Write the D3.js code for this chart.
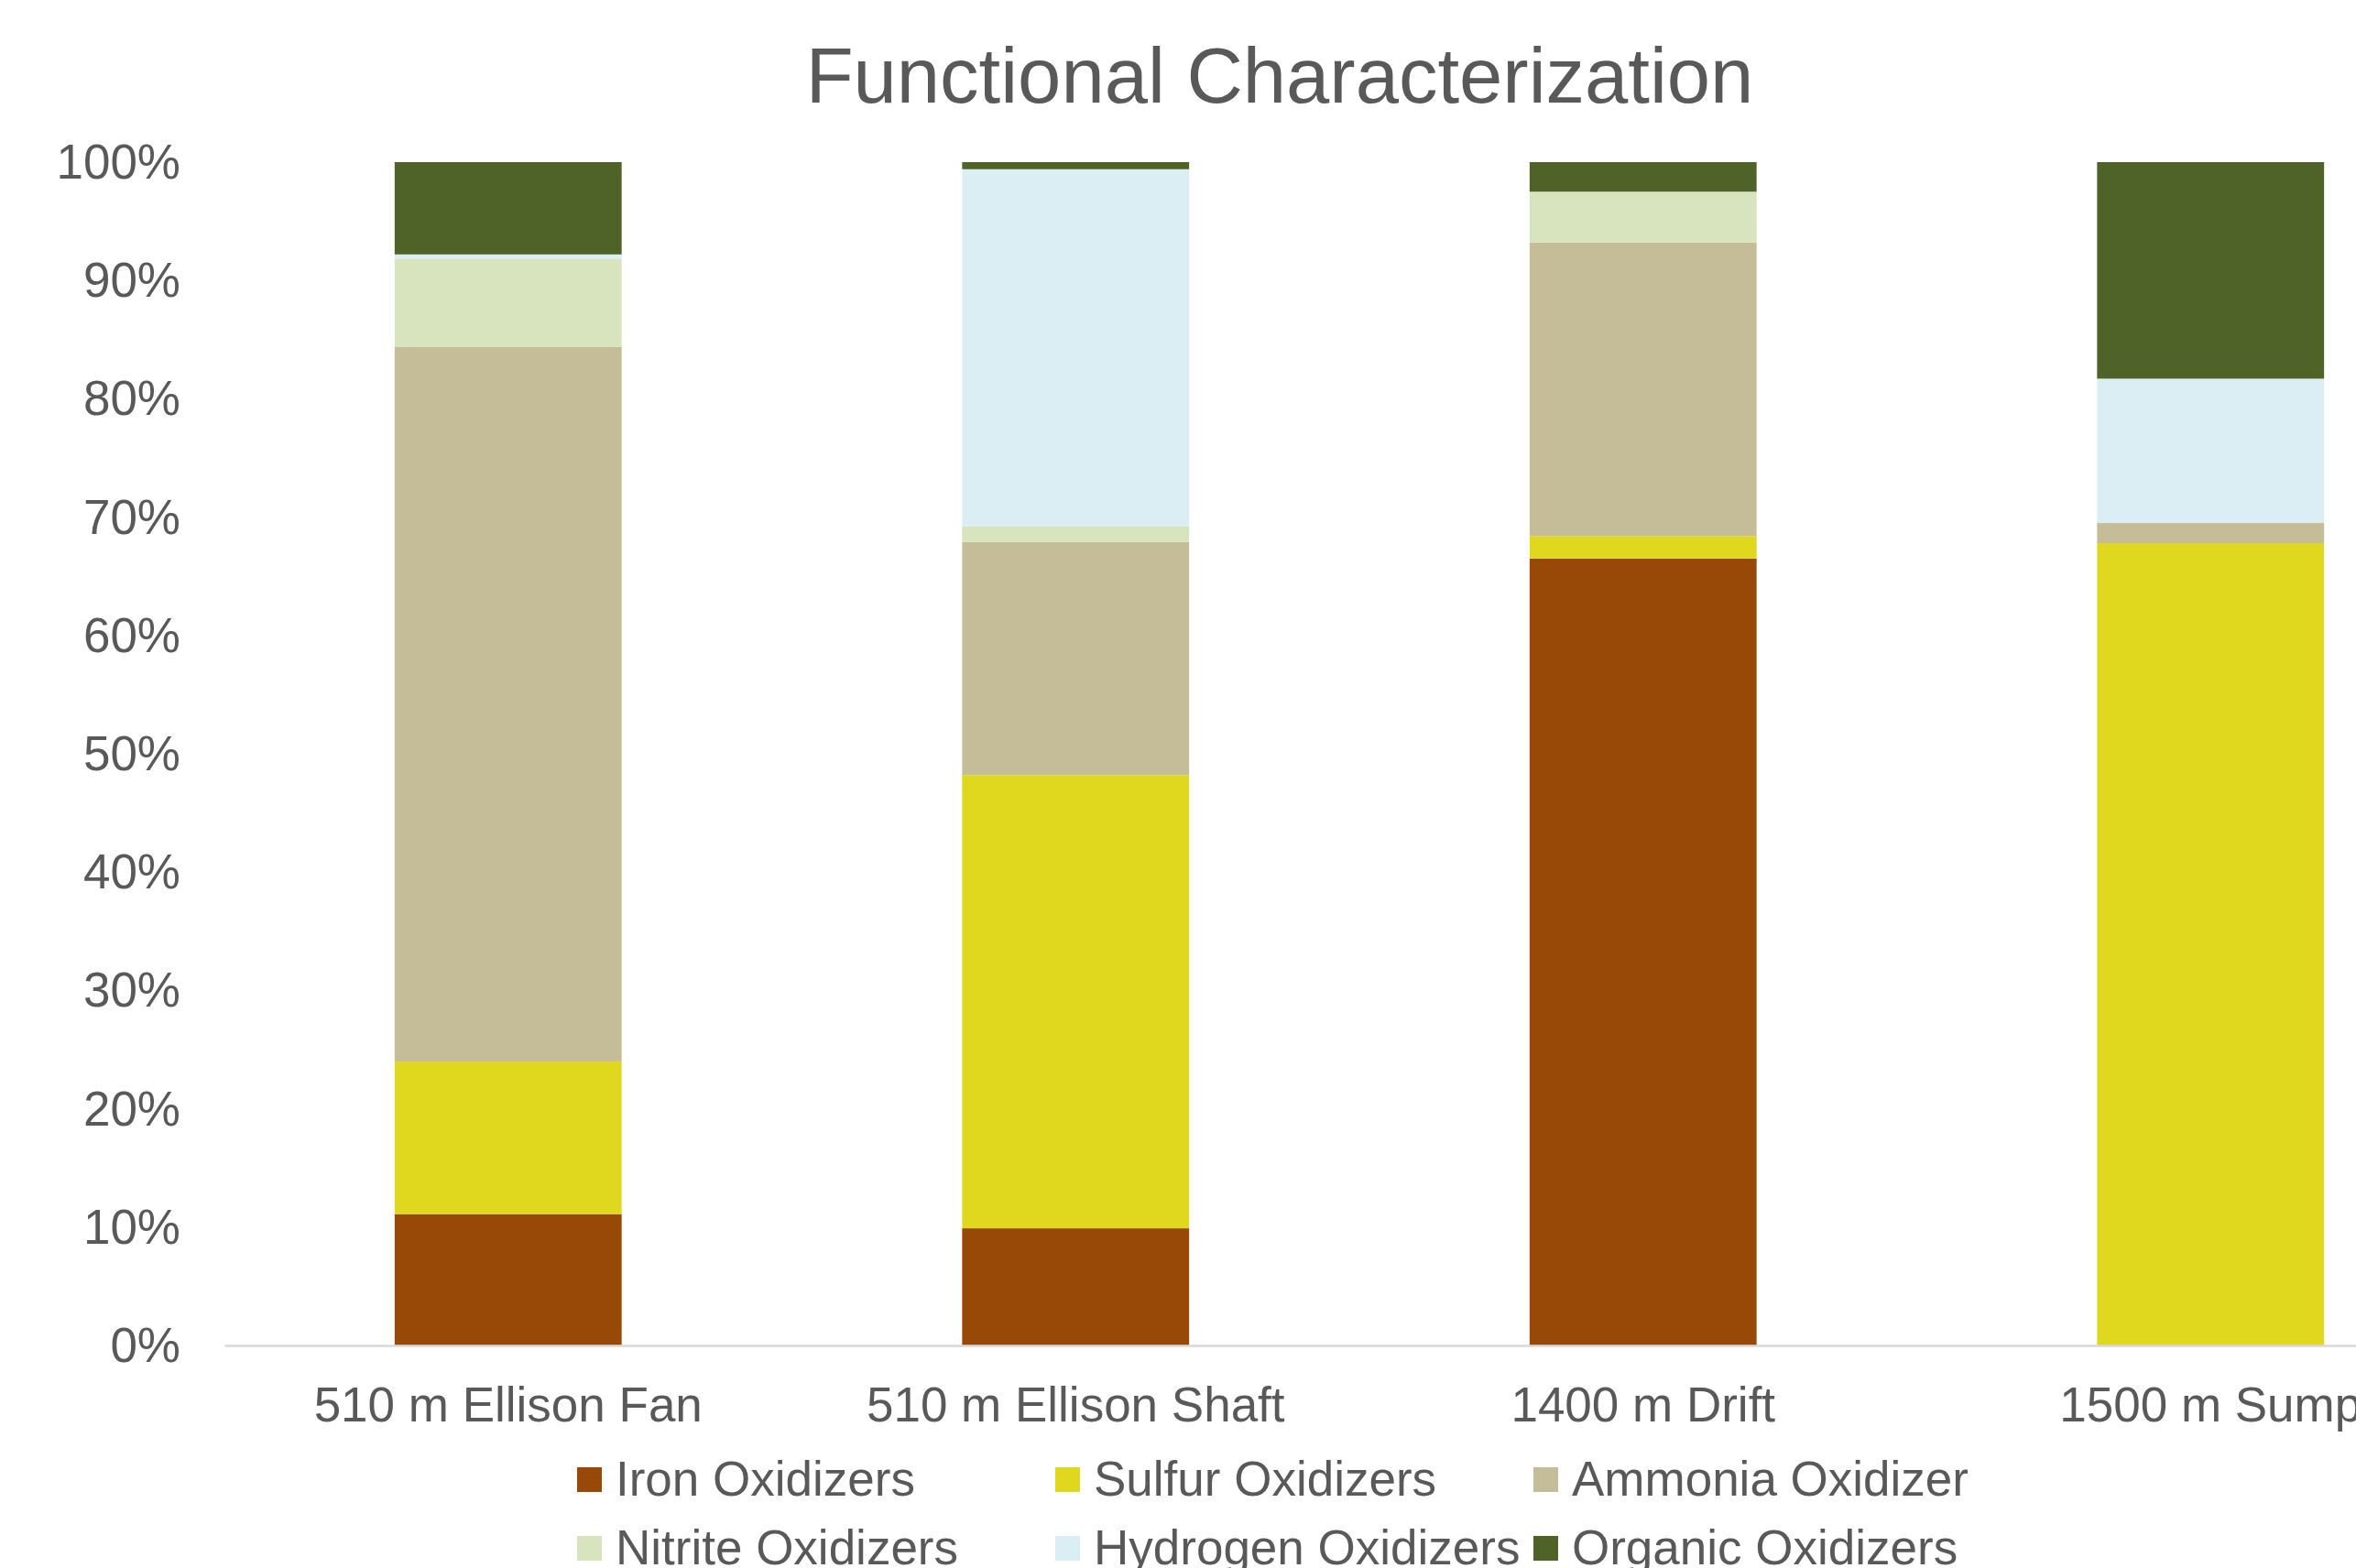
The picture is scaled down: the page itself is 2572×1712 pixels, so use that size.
<!DOCTYPE html>
<html>
<head>
<meta charset="utf-8">
<script src="https://cdn.jsdelivr.net/npm/d3@7"></script>
<style>
  html, body { margin: 0; padding: 0; background: #ffffff; overflow: hidden; }
  svg { display: block; font-family: "Liberation Sans", Arial, sans-serif; }
</style>
</head>
<body>
<svg id="chart" width="2572" height="1712"></svg>
<script>
// Sampling sites along the x axis
const sites = ["510 m Ellison Fan", "510 m Ellison Shaft", "1400 m Drift", "1500 m Sump"];

// Functional groups, bottom to top of each stack
const groups = ["Iron Oxidizers", "Sulfur Oxidizers", "Ammonia Oxidizer",
                "Nitrite Oxidizers", "Hydrogen Oxidizers", "Organic Oxidizers"];

// Relative abundance (%) of each group per site, same order as `sites`
const ironOxidizers     = [11.1,  9.9, 66.5,  0.0];
const sulfurOxidizers   = [12.9, 38.3,  1.9, 67.8];
const ammoniaOxidizer   = [60.4, 19.7, 24.8,  1.7];
const nitriteOxidizers  = [ 7.4,  1.3,  4.3,  0.0];
const hydrogenOxidizers = [ 0.4, 30.2,  0.0, 12.2];
const organicOxidizers  = [ 7.8,  0.6,  2.5, 18.3];

const groupColors = ["#984807", "#E0D81E", "#C4BD97", "#D7E4BD", "#DBEEF4", "#4F6228"];

const yTicks = [0, 0.1, 0.2, 0.3, 0.4, 0.5, 0.6, 0.7, 0.8, 0.9, 1.0];

// Build per-site rows for the stack layout
const seriesValues = [ironOxidizers, sulfurOxidizers, ammoniaOxidizer,
                      nitriteOxidizers, hydrogenOxidizers, organicOxidizers];
const rows = sites.map((s, i) => {
  const r = { site: s };
  groups.forEach((g, k) => { r[g] = seriesValues[k][i]; });
  return r;
});

const svg = d3.select("#chart");
const textColor = "#595959";
const fontSize = 53;

// Plot area
const plot = { left: 245, right: 2723, top: 177, bottom: 1469 };

const x = d3.scaleBand()
  .domain(sites)
  .range([plot.left, plot.right])
  .paddingInner(0.6)
  .paddingOuter(0.3);

const y = d3.scaleLinear()
  .domain([0, 1])
  .range([plot.bottom, plot.top]);

const color = d3.scaleOrdinal().domain(groups).range(groupColors);

// 100% stacked layout
const stacked = d3.stack()
  .keys(groups)
  .offset(d3.stackOffsetExpand)(rows);

// Title
svg.append("text")
  .attr("x", 1397)
  .attr("y", 112)
  .attr("text-anchor", "middle")
  .attr("fill", textColor)
  .attr("font-size", 85)
  .text("Functional Characterization");

// Y axis (labels only)
const yAxis = d3.axisLeft(y)
  .tickValues(yTicks)
  .tickFormat(d3.format(".0%"))
  .tickSize(0)
  .tickPadding(48);

const yG = svg.append("g")
  .attr("transform", `translate(${plot.left},0)`)
  .call(yAxis);
yG.select(".domain").remove();
yG.selectAll("text")
  .attr("fill", textColor)
  .attr("font-size", fontSize)
  .attr("font-family", "Liberation Sans, Arial, sans-serif")
  .attr("dy", "0.33em");

// Bars
svg.append("g")
  .selectAll("g")
  .data(stacked)
  .join("g")
    .attr("fill", d => color(d.key))
  .selectAll("rect")
  .data(d => d)
  .join("rect")
    .attr("x", d => x(d.data.site))
    .attr("width", x.bandwidth())
    .attr("y", d => y(d[1]))
    .attr("height", d => Math.max(0, y(d[0]) - y(d[1])));

// X axis baseline and category labels
const xAxis = d3.axisBottom(x).tickSize(0).tickPadding(45);
const xG = svg.append("g")
  .attr("transform", `translate(0,${plot.bottom})`)
  .call(xAxis);
xG.select(".domain")
  .attr("stroke", "#D9D9D9")
  .attr("stroke-width", 2.5);
xG.selectAll("text")
  .attr("fill", textColor)
  .attr("font-size", fontSize)
  .attr("font-family", "Liberation Sans, Arial, sans-serif")
  .attr("dy", "0.71em");

// Legend: three columns, two rows
const legend = svg.append("g").attr("transform", "translate(630,1602)");
const colW = 522, rowH = 75, sw = 27;
const items = legend.selectAll("g")
  .data(groups)
  .join("g")
    .attr("transform", (d, i) => `translate(${(i % 3) * colW},${Math.floor(i / 3) * rowH})`);
items.append("rect")
  .attr("width", sw)
  .attr("height", sw)
  .attr("fill", d => color(d));
items.append("text")
  .attr("x", 42)
  .attr("y", 31)
  .attr("fill", textColor)
  .attr("font-size", fontSize)
  .text(d => d);
</script>
</body>
</html>
